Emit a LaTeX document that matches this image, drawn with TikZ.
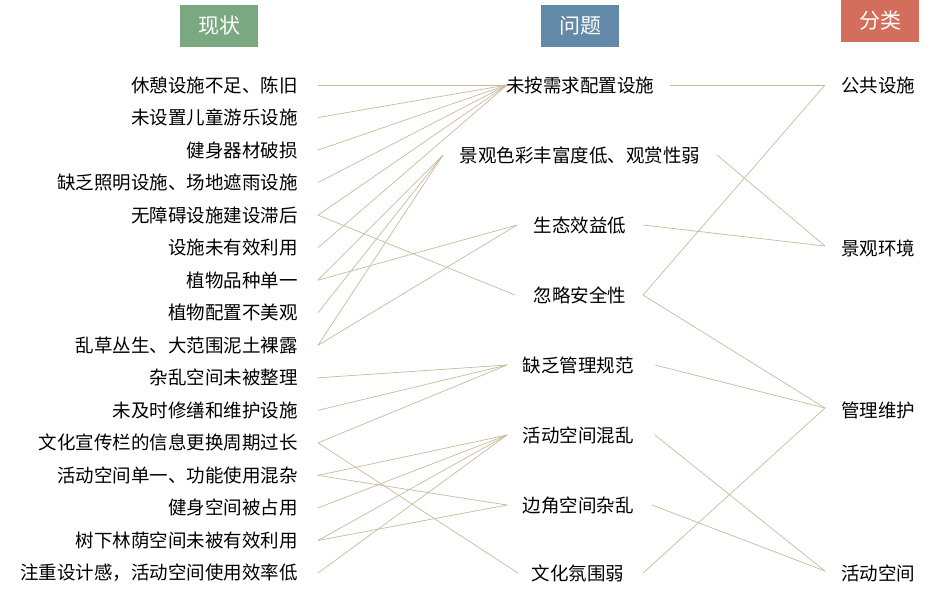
\documentclass[tikz,border=0pt]{standalone}
\usepackage{fontspec}
\setmainfont{Noto Sans CJK SC}
\definecolor{linktan}{RGB}{200,185,155}
\definecolor{headgreen}{RGB}{122,168,128}
\definecolor{headblue}{RGB}{98,138,168}
\definecolor{headred}{RGB}{212,110,92}
\tikzset{
  head/.style={minimum width=78pt, minimum height=42pt, text=white, font=\fontsize{21}{21}\selectfont, inner sep=0pt},
  item/.style={font=\fontsize{18.5}{18.5}\selectfont, inner sep=0pt, text=black},
  link/.style={linktan, line width=0.7pt}
}
\begin{document}
\begin{tikzpicture}[x=1pt, y=-1pt]
	\useasboundingbox (0,0) rectangle (937,598);
	% headers
	\node[head, fill=headgreen] (hnow) at (219,26) {现状};
	\node[head, fill=headblue] (hprob) at (580,26) {问题};
	\node[head, fill=headred] (hcat) at (880,21) {分类};
	
	% left column
	\foreach \t [count=\i] in {休憩设施不足、陈旧, 未设置儿童游乐设施, 健身器材破损, 缺乏照明设施、场地遮雨设施, 无障碍设施建设滞后, 设施未有效利用, 植物品种单一, 植物配置不美观, 乱草丛生、大范围泥土裸露, 杂乱空间未被整理, 未及时修缮和维护设施, 文化宣传栏的信息更换周期过长, 活动空间单一、功能使用混杂, 健身空间被占用, 树下林荫空间未被有效利用, 注重设计感，活动空间使用效率低}
	{
		\node[item, anchor=east] (l\i) at (298, {85+32.533*(\i-1)}) {\t};
		\coordinate (la\i) at (318, {85+32.533*(\i-1)});
	}
	
	% middle column
	\node[item] (p1) at (580,85) {未按需求配置设施};
	\node[item] (p2) at (580,155) {景观色彩丰富度低、观赏性弱};
	\node[item] (p3) at (580,225) {生态效益低};
	\node[item] (p4) at (580,295) {忽略安全性};
	\node[item] (p5) at (578,365) {缺乏管理规范};
	\node[item] (p6) at (578,435) {活动空间混乱};
	\node[item] (p7) at (578,505) {边角空间杂乱};
	\node[item] (p8) at (578,573) {文化氛围弱};
	\coordinate (pa1) at (507,85);  \coordinate (pb1) at (670,85);
	\coordinate (pa2) at (443,155); \coordinate (pb2) at (717,155);
	\coordinate (pa3) at (517,225); \coordinate (pb3) at (643,225);
	\coordinate (pa4) at (515,295); \coordinate (pb4) at (643,295);
	\coordinate (pa5) at (507,365); \coordinate (pb5) at (655,365);
	\coordinate (pa6) at (507,435); \coordinate (pb6) at (655,435);
	\coordinate (pa7) at (507,505); \coordinate (pb7) at (652,505);
	\coordinate (pa8) at (518,573); \coordinate (pb8) at (643,573);
	
	% right column
	\node[item, anchor=west] (c1) at (841,85) {公共设施};
	\node[item, anchor=west] (c2) at (841,248) {景观环境};
	\node[item, anchor=west] (c3) at (841,410) {管理维护};
	\node[item, anchor=west] (c4) at (841,573) {活动空间};
	\coordinate (ca1) at (825,85);
	\coordinate (ca2) at (825,246);
	\coordinate (ca3) at (825,408);
	\coordinate (ca4) at (825,571);
	
	% links left to middle
	\foreach \a/\b in {1/1, 2/1, 3/1, 4/1, 5/1, 5/4, 6/1, 7/2, 7/3, 8/2, 9/2, 9/3, 10/5, 11/5, 12/5, 12/8, 13/6, 13/7, 14/6, 15/6, 15/7, 16/6}
		\draw[link] (la\a) -- (pa\b);
	
	% links middle to right
	\foreach \a/\b in {1/1, 2/2, 3/2, 4/1, 4/3, 5/3, 6/4, 7/4, 8/3}
		\draw[link] (pb\a) -- (ca\b);
\end{tikzpicture}
\end{document}
